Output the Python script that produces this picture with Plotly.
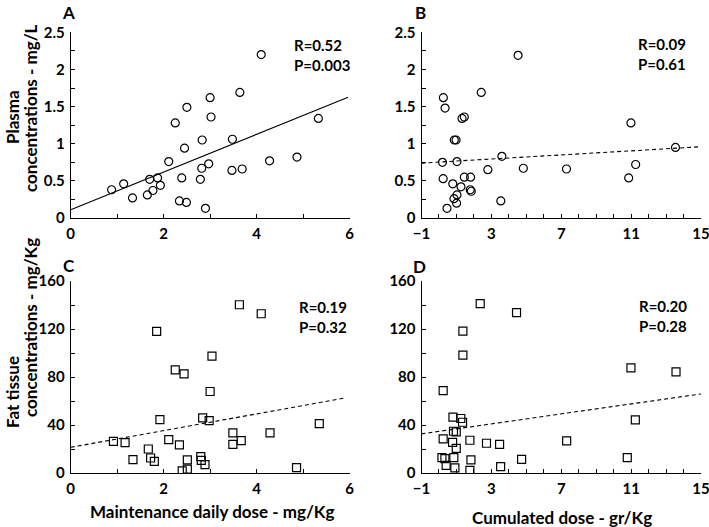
import plotly.graph_objects as go

# ---------------- data ----------------
# Panel A: plasma concentration vs maintenance daily dose
a_dose = [0.88, 1.14, 1.33, 1.65, 1.70, 1.77, 1.87, 1.93, 2.11, 2.25, 2.34, 2.39, 2.45, 2.50, 2.49,
          2.79, 2.82, 2.83, 2.90, 2.97, 3.00, 3.02, 3.48, 3.47, 3.69, 3.64, 4.10, 4.28, 4.87, 5.33]
a_plasma = [0.38, 0.46, 0.27, 0.31, 0.52, 0.37, 0.54, 0.44, 0.76, 1.28, 0.23, 0.54, 0.94, 1.49, 0.21,
            0.52, 0.67, 1.05, 0.13, 0.73, 1.62, 1.36, 1.06, 0.64, 0.66, 1.69, 2.20, 0.77, 0.82, 1.34]
a_fit = [0.11, 0.254]   # intercept, slope

# Panel B: plasma concentration vs cumulated dose
b_dose = [0.25, 0.35, 0.20, 0.24, 0.46, 0.79, 0.86, 0.88, 0.98, 1.03, 1.03, 1.01, 1.26, 1.32, 1.45,
          1.45, 1.81, 1.79, 1.85, 2.42, 2.80, 3.60, 3.54, 4.53, 4.83, 7.30, 10.86, 10.99, 11.26, 13.54]
b_plasma = [1.62, 1.48, 0.75, 0.53, 0.13, 0.46, 0.26, 1.05, 1.05, 0.76, 0.31, 0.20, 0.42, 1.34, 1.36,
            0.55, 0.55, 0.38, 0.36, 1.69, 0.65, 0.83, 0.23, 2.19, 0.67, 0.66, 0.54, 1.28, 0.72, 0.95]
b_fit = [0.753, 0.01375]

# Panel C: fat tissue concentration vs maintenance daily dose
c_dose = [0.92, 1.17, 1.34, 1.67, 1.72, 1.80, 1.85, 1.92, 2.11, 2.25, 2.34, 2.40, 2.44, 2.51, 2.51,
          2.80, 2.81, 2.84, 2.89, 2.98, 3.04, 3.00, 3.49, 3.49, 3.67, 3.63, 4.10, 4.29, 4.86, 5.35]
c_fat = [26.4, 25.3, 11.1, 20.0, 12.5, 9.7, 118.0, 44.5, 27.8, 86.0, 23.4, 1.7, 82.6, 10.9, 3.3,
         13.6, 10.6, 45.9, 7.0, 43.7, 97.4, 67.9, 33.4, 23.9, 27.0, 140.2, 132.7, 33.4, 4.5, 41.2]
c_fit = [21.4, 6.96]

# Panel D: fat tissue concentration vs cumulated dose
d_dose = [0.24, 0.24, 0.17, 0.34, 0.41, 0.78, 0.80, 0.83, 0.85, 0.91, 0.99, 0.99, 1.25, 1.35, 1.37,
          1.37, 1.77, 1.83, 1.77, 2.36, 2.72, 3.47, 3.53, 4.44, 4.73, 7.31, 10.78, 10.99, 11.24, 13.57]
d_fat = [68.7, 28.4, 12.8, 12.0, 6.4, 25.6, 46.5, 34.8, 12.8, 4.2, 34.2, 20.6, 45.4, 42.3, 118.3,
         98.2, 27.3, 10.9, 2.2, 141.1, 24.8, 23.9, 5.3, 133.6, 11.4, 26.7, 12.8, 87.6, 44.2, 84.3]
d_fit = [34.7, 2.08]

stats = ["R=0.52<br>P=0.003", "R=0.09<br>P=0.61", "R=0.19<br>P=0.32", "R=0.20<br>P=0.28"]
panel_letters = ["A", "B", "C", "D"]

FONT = "Lato, 'Open Sans', sans-serif"
W, H = 709, 527

def px(x):
    return x / W

def py(y):
    return 1 - y / H

fig = go.Figure()

def line_trace(fit, x0, x1, xa, ya, dash):
    xs = [x0, x1]
    ys = [fit[0] + fit[1] * x for x in xs]
    return go.Scatter(x=xs, y=ys, mode="lines", xaxis=xa, yaxis=ya,
                      line=dict(color="black", width=1.1, dash=dash),
                      hoverinfo="skip", showlegend=False)

mk_circle = dict(symbol="circle-open", size=8, color="black", line=dict(width=1.2))
mk_square = dict(symbol="square-open", size=8, color="black", line=dict(width=1.2))

fig.add_trace(line_trace(a_fit, 0, 5.97, "x", "y", "solid"))
fig.add_trace(go.Scatter(x=a_dose, y=a_plasma, mode="markers", xaxis="x", yaxis="y",
                         marker=mk_circle, showlegend=False))
fig.add_trace(line_trace(b_fit, -1, 15, "x2", "y2", "4px,3px"))
fig.add_trace(go.Scatter(x=b_dose, y=b_plasma, mode="markers", xaxis="x2", yaxis="y2",
                         marker=mk_circle, showlegend=False))
fig.add_trace(line_trace(c_fit, 0, 5.9, "x3", "y3", "4px,3px"))
fig.add_trace(go.Scatter(x=c_dose, y=c_fat, mode="markers", xaxis="x3", yaxis="y3",
                         marker=mk_square, showlegend=False))
fig.add_trace(line_trace(d_fit, -1, 15, "x4", "y4", "4px,3px"))
fig.add_trace(go.Scatter(x=d_dose, y=d_fat, mode="markers", xaxis="x4", yaxis="y4",
                         marker=mk_square, showlegend=False))

tickfont = dict(family=FONT, size=15, color="black", weight="bold")

def xaxis(domain, anchor, rng, tickvals, minor_dtick, tick0):
    return dict(domain=domain, anchor=anchor, range=rng, tickmode="array", tickvals=tickvals,
                ticks="inside", ticklen=4, tickwidth=1, tickcolor="black",
                showline=True, linecolor="black", linewidth=1, mirror=False,
                showgrid=False, zeroline=False, tickfont=tickfont, automargin=False,
                ticklabeloverflow="allow", ticklabelstandoff=2,
                minor=dict(dtick=minor_dtick, tick0=tick0, ticks="inside", ticklen=4,
                           tickcolor="black", showgrid=False))

def yaxis(domain, anchor, rng, dtick, minor_dtick):
    return dict(domain=domain, anchor=anchor, range=rng, dtick=dtick, tick0=0,
                ticks="inside", ticklen=4, tickwidth=1, tickcolor="black",
                showline=True, linecolor="black", linewidth=1, mirror=False,
                showgrid=False, zeroline=False, tickfont=tickfont, automargin=False,
                ticklabelstandoff=2,
                minor=dict(dtick=minor_dtick, tick0=0, ticks="inside", ticklen=4,
                           tickcolor="black", showgrid=False))

xl = [px(70.7), px(349.5)]
xr = [px(421.5), px(701)]
yt = [py(218), py(32.3)]
yb = [py(473), py(281)]

fig.update_layout(
    template="none",
    width=W, height=H,
    margin=dict(l=0, r=0, t=0, b=0, autoexpand=False),
    paper_bgcolor="white", plot_bgcolor="white",
    xaxis=xaxis(xl, "y", [0, 6], [0, 2, 4, 6], 1, 0),
    yaxis=yaxis(yt, "x", [0, 2.5], 0.5, 0.25),
    xaxis2=xaxis(xr, "y2", [-1, 15], [-1, 3, 7, 11, 15], 1, -1),
    yaxis2=yaxis(yt, "x2", [0, 2.5], 0.5, 0.25),
    xaxis3=xaxis(xl, "y3", [0, 6], [0, 2, 4, 6], 1, 0),
    yaxis3=yaxis(yb, "x3", [0, 160], 40, 20),
    xaxis4=xaxis(xr, "y4", [-1, 15], [-1, 3, 7, 11, 15], 1, -1),
    yaxis4=yaxis(yb, "x4", [0, 160], 40, 20),
    showlegend=False,
)

def ann(text, x, y, size, xanchor="center", angle=0, yanchor="middle"):
    fig.add_annotation(text=text, x=px(x), y=py(y), xref="paper", yref="paper",
                       xanchor=xanchor, yanchor=yanchor, showarrow=False, textangle=angle,
                       align="left",
                       font=dict(family=FONT, size=size, color="black", weight="bold"))

# panel letters
ann(panel_letters[0], 68, 12, 17)
ann(panel_letters[1], 420, 12, 17)
ann(panel_letters[2], 69, 265, 17)
ann(panel_letters[3], 419, 266, 17)

# statistics
ann(stats[0], 292, 55, 15, xanchor="left")
ann(stats[1], 636, 54, 15, xanchor="left")
ann(stats[2], 297, 317, 15, xanchor="left")
ann(stats[3], 637, 316, 15, xanchor="left")

# axis titles
ann("Plasma", 12, 117, 17, angle=-90)
ann("concentrations - mg/L", 30, 108, 17, angle=-90)
ann("Fat tissue", 12, 392, 17, angle=-90)
ann("concentrations - mg/Kg", 30, 328, 17, angle=-90)
ann("Maintenance daily dose - mg/Kg", 212, 511, 17)
ann("Cumulated dose - gr/Kg", 562, 517, 17)

# remove the default 8px page margin so the figure fills the window exactly
fig.write_html("out.html", config={"displayModeBar": False},
               post_script="document.body.style.margin='0px';")
